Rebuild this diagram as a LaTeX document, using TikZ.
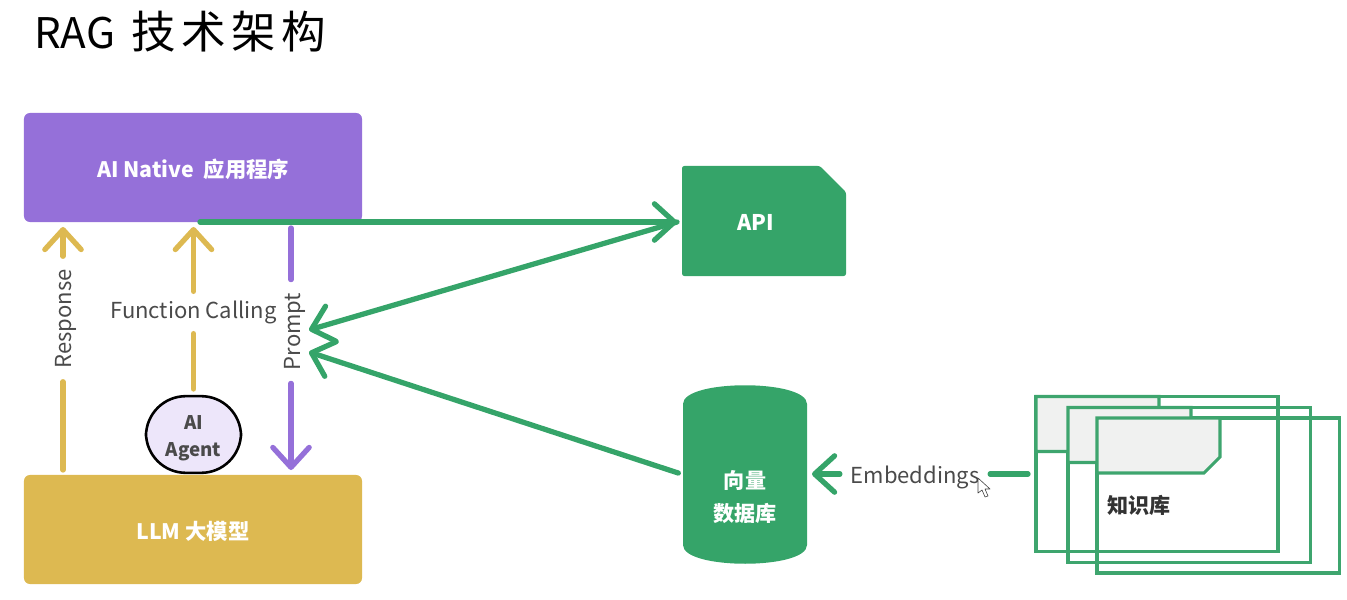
\documentclass[tikz,border=0pt]{standalone}
\usepackage{fontspec}
\setmainfont{Noto Sans CJK SC}
\newfontfamily\titlecjk[LetterSpace=12]{Noto Sans CJK SC}
\usetikzlibrary{arrows.meta, positioning, shapes.geometric, shapes.misc}

\definecolor{appPurple}{HTML}{9570D9}
\definecolor{llmYellow}{HTML}{DDB951}
\definecolor{ragGreen}{HTML}{35A469}
\definecolor{kbGreen}{HTML}{3EA56E}
\definecolor{agentFill}{HTML}{EDE6FA}
\definecolor{tabGray}{HTML}{F0F1F0}
\definecolor{labelGray}{HTML}{4A4A4A}

\tikzset{
  bigbox/.style={rounded corners=5pt, minimum width=10.14cm, minimum height=3.27cm,
    text=white, font=\fontsize{18.2}{22}\selectfont\bfseries},
  linelabel/.style={text=labelGray, font=\fontsize{18.8}{22}\selectfont, inner xsep=11pt, inner ysep=3pt},
  barb/.tip={Straight Barb[length=17pt, width=31pt, round]},
  flow/.style={line width=4.5pt, line cap=round},
  kbsheet/.style={draw=kbGreen, line width=2.6pt, minimum width=7.26cm, minimum height=4.65cm, inner sep=0pt, outer sep=0pt},
  kbtab/.style={draw=kbGreen, fill=tabGray, line width=2.6pt, line join=miter}
}

\begin{document}
\begin{tikzpicture}[x=0.03cm, y=-0.03cm]
  \useasboundingbox (0,0) rectangle (1347,600);

  \node[anchor=west, inner sep=0pt, font=\fontsize{36}{42}\selectfont] (title) at (34,32) {RAG\hspace{14pt}{\fontsize{38}{42}\selectfont\titlecjk 技术架构}};

  \node[bigbox, fill=appPurple] (app) at (193,167.5) {\rule{0pt}{19pt}AI Native\ \ 应用程序};
  \node[bigbox, fill=llmYellow] (llm) at (193,529.5) {\rule{0pt}{18pt}LLM 大模型};

  \node[draw=black, line width=2.2pt, fill=agentFill, rounded corners=34pt, minimum width=2.85cm, minimum height=2.3cm,
    inner sep=0pt, align=center, text=labelGray, font=\fontsize{16}{23}\selectfont\bfseries] (agent) at (193.5,434.5) {\rule{0pt}{19pt}AI\\Agent};

  \node[chamfered rectangle, chamfered rectangle corners=north east, chamfered rectangle xsep=0.55cm, chamfered rectangle ysep=0.5cm,
    fill=ragGreen, minimum width=4.92cm, minimum height=3.3cm, inner sep=0pt, rounded corners=2pt,
    text=white, font=\fontsize{18.4}{22}\selectfont\bfseries] (api) at (764,221) {\rule{0pt}{16pt}API\kern14pt\relax};

  \fill[ragGreen] (683,404) .. controls (683,379) and (807,379) .. (807,404) -- (807,545) .. controls (807,570) and (683,570) .. (683,545) -- cycle;
  \node[minimum width=3.72cm, minimum height=5.37cm, inner sep=0pt, align=center, text=white,
    font=\fontsize{18}{27.5}\selectfont\bfseries] (db) at (745,474.5) {\rule{0pt}{54pt}向量\\数据库};

  \node[linelabel, rotate=90] (response) at (66,319) {Response};
  \node[linelabel, rotate=90] (prompt) at (295,331.5) {Prompt};
  \node[linelabel, inner ysep=8pt] (fncall) at (193.5,312.5) {Function Calling};
  \node[linelabel, inner xsep=9pt] (embed) at (915,477) {Embeddings};

  \coordinate (respBase) at (63,470);
  \coordinate (respTop) at (63,227);
  \coordinate (fnTop) at (193.5,227);
  \coordinate (promptTop) at (291,228);
  \coordinate (promptEnd) at (291,470);
  \coordinate (appOut) at (200,222);
  \coordinate (apiIn) at (677,222);
  \coordinate (mergeA) at (309,330);
  \coordinate (mergeB) at (309,352);
  \coordinate (dbIn) at (812,474);
  \coordinate (kbOut) at (1028,474);

  \draw[flow, draw=llmYellow] (respBase) -- (respBase |- response.west);
  \draw[flow, draw=llmYellow, -{barb}] (respBase |- response.east) -- (respTop);
  \draw[flow, draw=llmYellow, shorten <=5pt] (agent) -- (fncall);
  \draw[flow, draw=llmYellow, -{barb}] (fncall) -- (fnTop);
  \draw[flow, draw=appPurple] (promptTop) -- (promptTop |- prompt.east);
  \draw[flow, draw=appPurple, -{barb}] (promptTop |- prompt.west) -- (promptEnd);

  \draw[flow, draw=ragGreen, -{barb}] (appOut) -- (apiIn);
  \draw[flow, draw=ragGreen, -{barb}] (apiIn) -- (mergeA);
  \draw[flow, draw=ragGreen, -{barb}, shorten <=4pt] (db.west) -- (mergeB);
  \draw[flow, draw=ragGreen, -{barb}] (embed.west |- dbIn) -- (dbIn);

  \node[kbsheet] (kbA) at (1157,474) {};
  \node[kbsheet] (kbB) at (1189,485) {};
  \node[kbsheet] (kbC) at (1218,495.5) {};
  \foreach \sheet in {kbA,kbB,kbC} {
    \draw[kbtab] (\sheet.north west) -- ++(123,0) -- ++(0,39) -- ++(-16,16) -- ++(-107,0) -- cycle;
  }
  \node[anchor=west, inner sep=0pt, text=black!80, font=\fontsize{18}{22}\selectfont\bfseries] (kbtext) at (1107,505) {知识库};

  \draw[flow, draw=ragGreen] (kbOut) -- (embed.east |- kbOut);

  \draw[fill=white, draw=black!75, line width=0.5pt, line join=round] (978,478) -- (978,493) -- (982,490) -- (985,497) -- (988,496) -- (985,489) -- (990,489) -- cycle;
\end{tikzpicture}
\end{document}
